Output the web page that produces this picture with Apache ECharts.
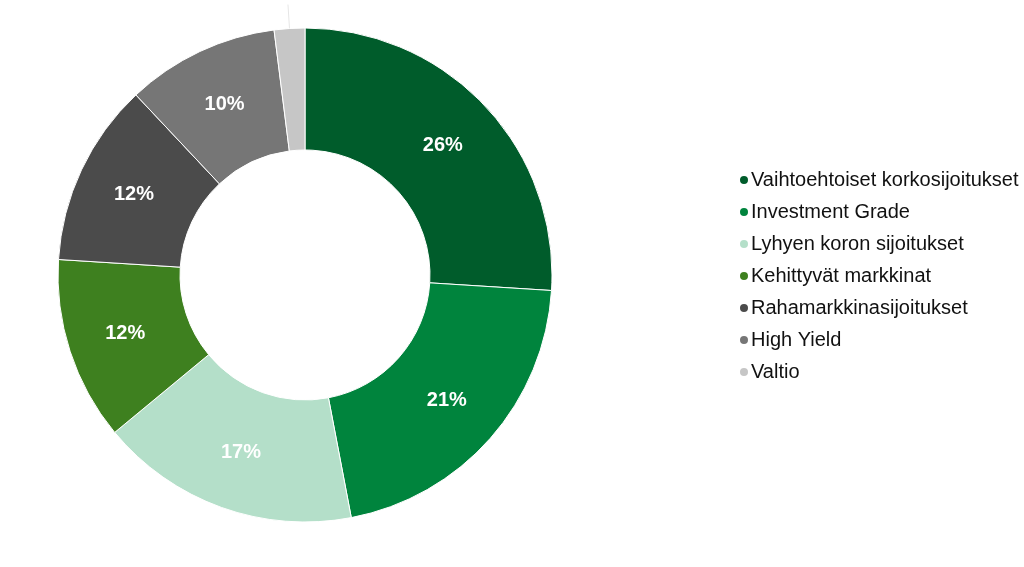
<!DOCTYPE html>
<html>
<head>
<meta charset="utf-8">
<script src="https://cdn.jsdelivr.net/npm/echarts@6/dist/echarts.min.js"></script>
<style>
  html, body { margin: 0; padding: 0; background: #fff; }
  #chart { width: 1024px; height: 567px; }
</style>
</head>
<body>
<div id="chart"></div>
<script>
  // luokat ja osuudet (%)
  var categories = ['Vaihtoehtoiset korkosijoitukset', 'Investment Grade', 'Lyhyen koron sijoitukset',
                    'Kehittyvät markkinat', 'Rahamarkkinasijoitukset', 'High Yield', 'Valtio'];
  var values = [26, 21, 17, 12, 12, 10, 2];
  var colors = ['#005C2B', '#00843D', '#B4DFC9', '#3E801F', '#4B4B4B', '#767676', '#C6C6C6'];

  var data = [];
  for (var i = 0; i < categories.length; i++) {
    var d = { name: categories[i], value: values[i] };
    if (values[i] < 5) {
      // pieni siivu: etiketti ulkona, vain viiva näkyy
      d.label = { show: true, position: 'outside', formatter: ' ' };
      d.labelLine = { show: true, length: 24, length2: 0, lineStyle: { color: '#e6e6e6', width: 1 } };
    }
    data.push(d);
  }

  var myChart = echarts.init(document.getElementById('chart'));
  var option = {
    color: colors,
    animation: false,
    legend: {
      orient: 'vertical',
      left: 733,
      top: 165,
      icon: 'circle',
      itemWidth: 10,
      itemHeight: 10,
      itemGap: 12,
      textStyle: { fontFamily: 'Liberation Sans', fontSize: 20, lineHeight: 20, color: '#111', padding: [0, 0, 0, -3] },
      data: categories
    },
    series: [
      {
        type: 'pie',
        center: [305, 275],
        radius: [125, 247],
        startAngle: 90,
        clockwise: true,
        avoidLabelOverlap: false,
        itemStyle: { borderColor: '#fff', borderWidth: 1 },
        label: {
          show: true,
          position: 'inside',
          formatter: '{c}%',
          color: '#fff',
          fontFamily: 'Liberation Sans',
          fontWeight: 'bold',
          fontSize: 20
        },
        labelLine: { show: false },
        data: data
      }
    ]
  };
  myChart.setOption(option);
</script>
</body>
</html>
